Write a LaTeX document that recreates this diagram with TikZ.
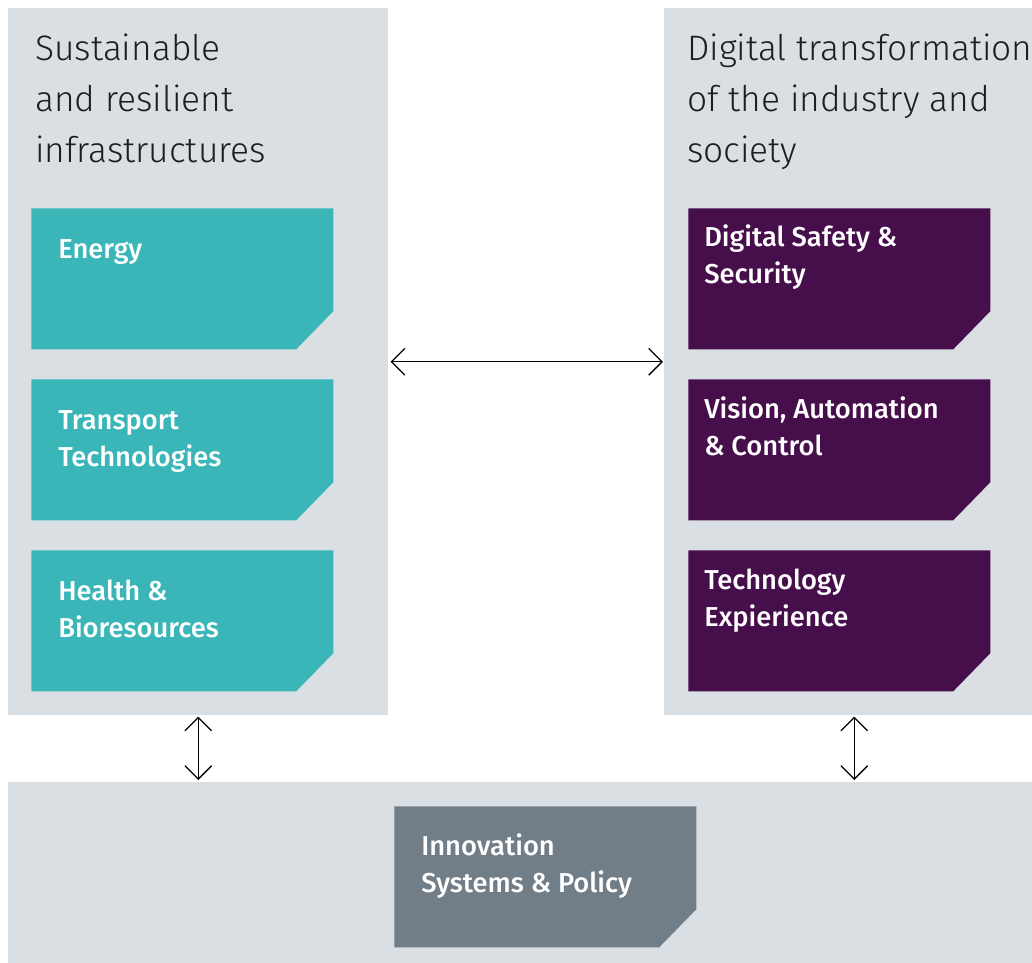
\documentclass[tikz,border=0pt]{standalone}
\usepackage{fontspec}
\setmainfont{Fira Sans}
\newfontfamily\headfont{Fira Sans Light}
\newfontfamily\boxfont{Fira Sans Medium}
\usetikzlibrary{arrows.meta}
\definecolor{panelgrey}{HTML}{DADFE3}
\definecolor{tealbox}{HTML}{3AB6B9}
\definecolor{plumbox}{HTML}{470E4C}
\definecolor{slatebox}{HTML}{717E87}
\definecolor{headink}{HTML}{1E1E1E}
\tikzset{
  panel/.style={rectangle, fill=panelgrey, inner sep=0pt, anchor=north west},
  cutbox/.style={rectangle, inner sep=0pt, anchor=north west,
    minimum width=226.5pt, minimum height=105.75pt,
    path picture={\fill[#1] (path picture bounding box.north west)
      -- (path picture bounding box.north east)
      -- ([yshift=28.5pt]path picture bounding box.south east)
      -- ([xshift=-27.75pt]path picture bounding box.south east)
      -- (path picture bounding box.south west) -- cycle;}},
  heading/.style={anchor=base west, inner sep=0pt, text=headink,
    font=\headfont\fontsize{26.5}{38.25}\selectfont},
  boxtext/.style={anchor=base west, inner sep=0pt, text=white,
    font=\boxfont\fontsize{20.5}{27.75}\selectfont},
  link/.style={line width=1pt, {Straight Barb[length=10pt,width=20pt]}-{Straight Barb[length=10pt,width=20pt]}}
}
\begin{document}
\begin{tikzpicture}[x=0.75pt,y=-0.75pt]
  \useasboundingbox (0,0) rectangle (1032,963);

  % grey panels
  \node[panel, minimum width=285pt, minimum height=530.25pt] (left) at (8,8) {};
  \node[panel, minimum width=276pt, minimum height=530.25pt] (right) at (664,8) {};
  \node[panel, minimum width=768pt, minimum height=135.75pt] (bottom) at (8,782) {};

  % panel headings
  \node[heading] (lefthead) at (35,61)
    {\parbox[t]{280pt}{\raggedright Sustainable\\ and resilient\\ infrastructures}};
  \node[heading] (righthead) at (687,61)
    {\parbox[t]{280pt}{\raggedright Digital transformation\\ of the industry and\\ society}};

  % left column boxes
  \node[cutbox=tealbox] (energy) at (31,208) {};
  \node[cutbox=tealbox] (transport) at (31,379) {};
  \node[cutbox=tealbox] (health) at (31,550) {};
  \node[boxtext] (energytxt) at (58,258) {\parbox[t]{220pt}{\raggedright Energy}};
  \node[boxtext] (transporttxt) at (58,429) {\parbox[t]{220pt}{\raggedright Transport\\ Technologies}};
  \node[boxtext] (healthtxt) at (58,600) {\parbox[t]{220pt}{\raggedright Health \&\\ Bioresources}};

  % right column boxes
  \node[cutbox=plumbox] (security) at (688,208) {};
  \node[cutbox=plumbox] (vision) at (688,379) {};
  \node[cutbox=plumbox] (experience) at (688,550) {};
  \node[boxtext] (securitytxt) at (704,247) {\parbox[t]{220pt}{\raggedright Digital Safety \&\\ Security}};
  \node[boxtext] (visiontxt) at (704,418) {\parbox[t]{220pt}{\raggedright Vision, Automation\\ \& Control}};
  \node[boxtext] (experiencetxt) at (704,589) {\parbox[t]{220pt}{\raggedright Technology\\ Expierience}};

  % bottom box
  \node[cutbox=slatebox] (policy) at (394,806) {};
  \node[boxtext] (policytxt) at (421,855) {\parbox[t]{220pt}{\raggedright Innovation\\ Systems \& Policy}};

  % connections between the areas
  \draw[link, shorten <=1.5pt, shorten >=0.75pt] (left.east) -- (right.west);
  \draw[link, shorten <=0.75pt, shorten >=1.5pt] (left.south) -- (left.south |- bottom.north);
  \coordinate (rightfoot) at ([xshift=4.5pt]right.south);
  \draw[link, shorten <=0.75pt, shorten >=1.5pt] (rightfoot) -- (rightfoot |- bottom.north);
\end{tikzpicture}
\end{document}
